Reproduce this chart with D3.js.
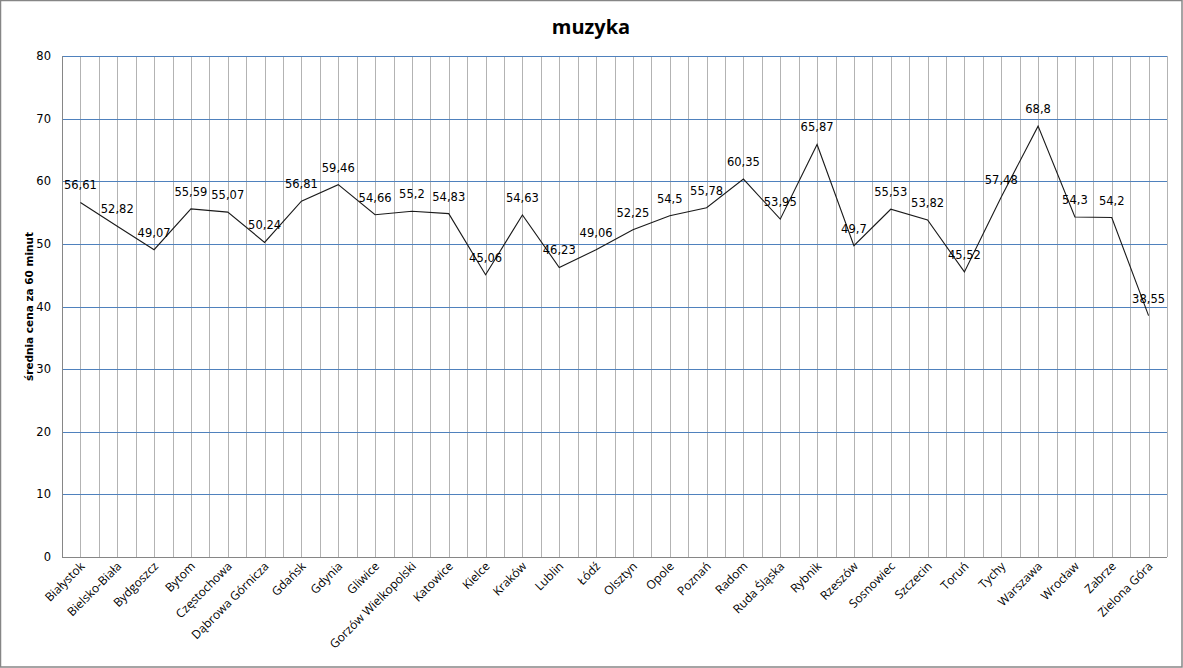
<!DOCTYPE html>
<html><head><meta charset="utf-8">
<script src="https://cdn.jsdelivr.net/npm/d3@7"></script>
<style>body{margin:0;background:#fff}</style>
</head><body>
<script>
const categories = ["Białystok","Bielsko-Biała","Bydgoszcz","Bytom","Częstochowa","Dąbrowa Górnicza","Gdańsk","Gdynia","Gliwice","Gorzów Wielkopolski","Katowice","Kielce","Kraków","Lublin","Łódź","Olsztyn","Opole","Poznań","Radom","Ruda Śląska","Rybnik","Rzeszów","Sosnowiec","Szczecin","Toruń","Tychy","Warszawa","Wrocław","Zabrze","Zielona Góra"];
const values = [56.61,52.82,49.07,55.59,55.07,50.24,56.81,59.46,54.66,55.2,54.83,45.06,54.63,46.23,49.06,52.25,54.5,55.78,60.35,53.95,65.87,49.7,55.53,53.82,45.52,57.48,68.8,54.3,54.2,38.55];
const yTicks = [0,10,20,30,40,50,60,70,80];
const title = "muzyka";
const yTitle = "średnia cena za 60 minut";

const W = 1183, H = 668;
const m = {left:62, right:1167, top:56, bottom:557};
const svg = d3.select("body").append("svg").attr("width",W).attr("height",H);
svg.append("rect").attr("x",0.5).attr("y",0.5).attr("width",W-1.5).attr("height",H-1.5)
  .attr("fill","#fff").attr("stroke","#868686").attr("stroke-width",1.5);

const x = d3.scaleBand().domain(categories).range([m.left,m.right]).paddingInner(0).paddingOuter(0);
const y = d3.scaleLinear().domain([0,80]).range([m.bottom,m.top]);

// vertical gridlines at band edges and centers
const vx = [];
categories.forEach(c => { vx.push(x(c)); vx.push(x(c)+x.bandwidth()/2); });
vx.push(m.right);
svg.append("g").selectAll("line").data(vx.slice(1)).join("line")
  .attr("x1",d=>Math.round(d)+0.5).attr("x2",d=>Math.round(d)+0.5)
  .attr("y1",m.top).attr("y2",m.bottom)
  .attr("stroke","#b3b3b3").attr("stroke-width",1);

// horizontal gridlines
svg.append("g").selectAll("line").data(yTicks.filter(t=>t>0)).join("line")
  .attr("x1",m.left).attr("x2",m.right)
  .attr("y1",d=>Math.round(y(d))+0.5).attr("y2",d=>Math.round(y(d))+0.5)
  .attr("stroke","#4f81bd").attr("stroke-width",1);

// axes lines
svg.append("line").attr("x1",m.left+0.5).attr("x2",m.left+0.5).attr("y1",m.top).attr("y2",m.bottom+0.5)
  .attr("stroke","#868686");
svg.append("line").attr("x1",m.left).attr("x2",m.right).attr("y1",m.bottom+0.5).attr("y2",m.bottom+0.5)
  .attr("stroke","#868686");

// y tick labels
svg.append("g").selectAll("text").data(yTicks).join("text")
  .attr("x",51).attr("y",d=>y(d)+4)
  .attr("text-anchor","end").attr("font-family","DejaVu Sans").attr("font-size",11.5)
  .text(d=>d);

// category labels
svg.append("g").selectAll("text").data(categories).join("text")
  .attr("transform",d=>`translate(${x(d)+x.bandwidth()/2+5},${m.bottom+10}) rotate(-45)`)
  .attr("text-anchor","end").attr("font-family","Open Sans").attr("font-size",12)
  .text(d=>d);

// line
const line = d3.line().x((d,i)=>x(categories[i])+x.bandwidth()/2).y(d=>y(d));
svg.append("path").datum(values).attr("d",line).attr("fill","none")
  .attr("stroke","#1a1a1a").attr("stroke-width",1.1);

// data labels
svg.append("g").selectAll("text").data(values).join("text")
  .attr("x",(d,i)=>x(categories[i])+x.bandwidth()/2)
  .attr("y",d=>y(d)-13)
  .attr("text-anchor","middle").attr("font-family","DejaVu Sans").attr("font-size",11.5)
  .text(d=>String(d).replace(".",","));

// title
svg.append("text").attr("x",591).attr("y",34).attr("text-anchor","middle")
  .attr("font-family","Open Sans").attr("font-weight","bold").attr("font-size",20).text(title);

// y title
svg.append("text").attr("transform",`translate(33,${(m.top+m.bottom)/2}) rotate(-90)`)
  .attr("text-anchor","middle").attr("font-family","DejaVu Sans").attr("font-weight","bold")
  .attr("font-size",10.5).text(yTitle);
</script>
</body></html>
